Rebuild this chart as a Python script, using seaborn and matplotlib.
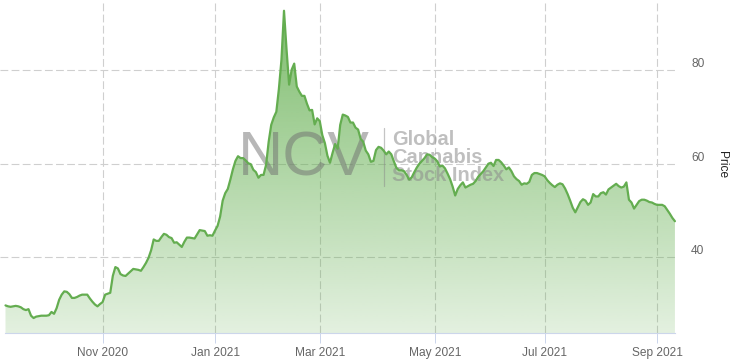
import numpy as np
import pandas as pd
import matplotlib
matplotlib.use("Agg")
import matplotlib.pyplot as plt
import seaborn as sns
from matplotlib.transforms import ScaledTranslation
from matplotlib.lines import Line2D

# ---- data (daily index level, business days) ----
sep_oct_2020 = [29.7, 29.5, 29.4, 29.5, 29.6, 29.5, 29.3, 28.9, 28.7, 28.9,
                27.5, 27.0, 27.3, 27.4, 27.5, 27.5, 27.5, 27.6, 28.3, 27.9,
                29.1, 30.9, 32.0, 32.7, 32.6, 32.1, 31.3, 31.3, 31.5, 31.8,
                32.0, 32.0, 32.0, 31.2, 30.5, 29.9, 29.5, 30.0]
nov_dec_2020 = [30.4, 32.0, 32.2, 32.4, 36.0, 37.9, 37.6, 36.4, 36.1, 36.0,
                36.5, 37.0, 37.5, 37.4, 37.3, 37.1, 37.9, 38.8, 39.9, 41.5,
                43.8, 43.5, 43.5, 44.3, 45.0, 44.8, 44.3, 44.1, 43.1, 43.2,
                42.7, 42.2, 43.3, 44.2, 44.2, 44.1, 44.0, 44.9, 45.8, 45.7,
                45.6, 44.6, 44.7, 44.6]
jan_feb_2021 = [45.7, 46.7, 48.7, 52.1, 53.7, 54.6, 56.6, 58.8, 60.6, 61.6,
                61.2, 61.2, 60.7, 60.1, 59.9, 58.7, 58.2, 57.0, 57.6, 57.6,
                59.8, 64.7, 68.3, 69.9, 71.1, 76.0, 82.2, 92.7, 84.4, 76.9,
                80.1, 81.4, 76.5, 75.4, 74.5, 74.5, 72.8, 71.4, 71.5, 68.4,
                69.7]
mar_apr_2021 = [69.1, 66.1, 64.4, 61.7, 60.2, 62.3, 64.2, 63.2, 68.3, 70.5,
                70.3, 70.0, 68.8, 68.8, 67.7, 67.3, 65.3, 64.7, 62.8, 62.0,
                60.4, 60.6, 62.9, 63.6, 63.4, 62.8, 62.0, 62.6, 62.0, 60.5,
                59.1, 58.6, 58.6, 58.4, 57.6, 56.6, 57.1, 58.2, 59.2, 60.0,
                60.6, 61.2, 62.0, 61.9, 61.4]
may_jun_2021 = [61.1, 60.5, 59.4, 59.6, 59.0, 57.9, 56.7, 55.1, 53.2, 54.6,
                55.4, 56.0, 54.9, 55.2, 55.5, 55.7, 56.3, 57.2, 57.8, 58.4,
                59.2, 60.0, 60.2, 59.5, 60.8, 60.8, 60.3, 59.6, 58.8, 59.2,
                58.4, 57.3, 56.7, 56.3, 55.5, 55.8, 55.7, 56.1, 57.6, 58.0,
                58.0, 57.8, 57.6]
jul_aug_2021 = [57.3, 56.5, 55.9, 55.4, 55.0, 55.5, 55.8, 55.6, 54.7, 53.5,
                52.1, 50.6, 49.6, 50.7, 51.8, 52.4, 52.1, 51.2, 51.7, 53.5,
                53.0, 53.0, 53.7, 53.9, 53.4, 54.5, 54.9, 55.3, 55.7, 55.2,
                54.9, 55.1, 56.0, 52.3, 51.7, 50.4, 51.2, 52.0, 52.3, 52.3,
                52.1, 51.8, 51.7, 51.4]
sep_2021 = [51.2, 51.2, 51.2, 50.9, 50.1, 49.3, 48.4, 47.7]

start_date = "2020-09-09"
tick_months = [(2020, 11), (2021, 1), (2021, 3), (2021, 5), (2021, 7), (2021, 9)]
tick_labels = ["Nov 2020", "Jan 2021", "Mar 2021", "May 2021", "Jul 2021", "Sep 2021"]
y_ticks = [40, 60, 80]
y_label = "Price"

price = np.concatenate([sep_oct_2020, nov_dec_2020, jan_feb_2021, mar_apr_2021,
                        may_jun_2021, jul_aug_2021, sep_2021])
dates = pd.bdate_range(start_date, periods=len(price))
df = pd.DataFrame({"date": dates, "pos": np.arange(len(price)), "price": price})

# ---- style ----
sns.set_theme(style="white")
plt.rcParams["font.family"] = ["Liberation Sans", "DejaVu Sans"]

W, H = 735, 364
fig = plt.figure(figsize=(W / 100, H / 100), dpi=100)
ax = fig.add_axes([0, 31 / H, 678 / W, 333 / H])

YMIN, YMAX = 23.8, 95.0
XMIN, XMAX = -2.15, 263.2
LINE = "#64ad50"
GRID = "#cfcfcf"

# gradient area fill
poly = ax.fill_between(df["pos"], df["price"], YMIN, facecolor="none", edgecolor="none")
grad = np.zeros((256, 1, 4))
grad[..., 0], grad[..., 1], grad[..., 2] = 100 / 255, 175 / 255, 80 / 255
grad[:, 0, 3] = np.linspace(0.85, 0.18, 256)
im = ax.imshow(grad, extent=[XMIN, XMAX, YMIN, YMAX], aspect="auto",
               origin="upper", zorder=1, interpolation="bilinear")
im.set_clip_path(poly.get_paths()[0], transform=ax.transData)

sns.lineplot(data=df, x="pos", y="price", color=LINE, linewidth=1.6, ax=ax, zorder=4)

ax.set_xlim(XMIN, XMAX)
ax.set_ylim(YMIN, YMAX)
ax.set_xlabel("")
ax.set_ylabel("")

# x ticks at first trading day of months
tick_pos = [int(np.argmax((df["date"].dt.year == y) & (df["date"].dt.month == m)))
            for (y, m) in tick_months]
ax.set_xticks(tick_pos)
ax.set_xticklabels(tick_labels)
ax.set_yticks(y_ticks)
ax.set_yticklabels([str(v) for v in y_ticks])
ax.yaxis.tick_right()

ax.grid(True, color=GRID, linestyle=(0, (7, 3)), linewidth=0.8, zorder=0)
ax.set_axisbelow(True)

for s in ["top", "left", "right"]:
    ax.spines[s].set_visible(False)
ax.spines["bottom"].set_color("#ccd6eb")
ax.spines["bottom"].set_linewidth(0.8)
ax.spines["bottom"].set_bounds(0, len(price) - 1)

ax.tick_params(axis="x", direction="out", length=7.2, width=0.72, color="#ccd6eb",
               labelcolor="#666666", labelsize=8.6, pad=3, bottom=True)
ax.tick_params(axis="y", length=0, labelcolor="#666666", labelsize=8.6, pad=9.4,
               right=False, left=False)
for lab in ax.get_yticklabels():
    lab.set_horizontalalignment("left")
    lab.set_transform(lab.get_transform() + ScaledTranslation(0, 7.3 / 100, fig.dpi_scale_trans))

fig.text(722 / W, 1 - 165 / H, y_label, rotation=270, ha="center", va="center",
         fontsize=8.6, color="#222222")

# watermark
ax.text(238 / W, 1 - 175 / H, "NCV", transform=fig.transFigure, fontsize=45,
        color="#707070", alpha=0.5, ha="left", va="baseline", zorder=3)
ax.add_line(Line2D([383.5 / W, 383.5 / W], [1 - 128 / H, 1 - 186 / H],
                   transform=fig.transFigure, color="#8a8a8a", alpha=0.5, lw=0.9, zorder=3))
for txt, yb in [("Global", 145), ("Cannabis", 163), ("Stock Index", 181)]:
    ax.text(392 / W, 1 - yb / H, txt, transform=fig.transFigure, fontsize=14.4,
            fontweight="bold", color="#8c8c8c", alpha=0.55, ha="left", va="baseline", zorder=3)

fig.savefig("out.png", dpi=100)
